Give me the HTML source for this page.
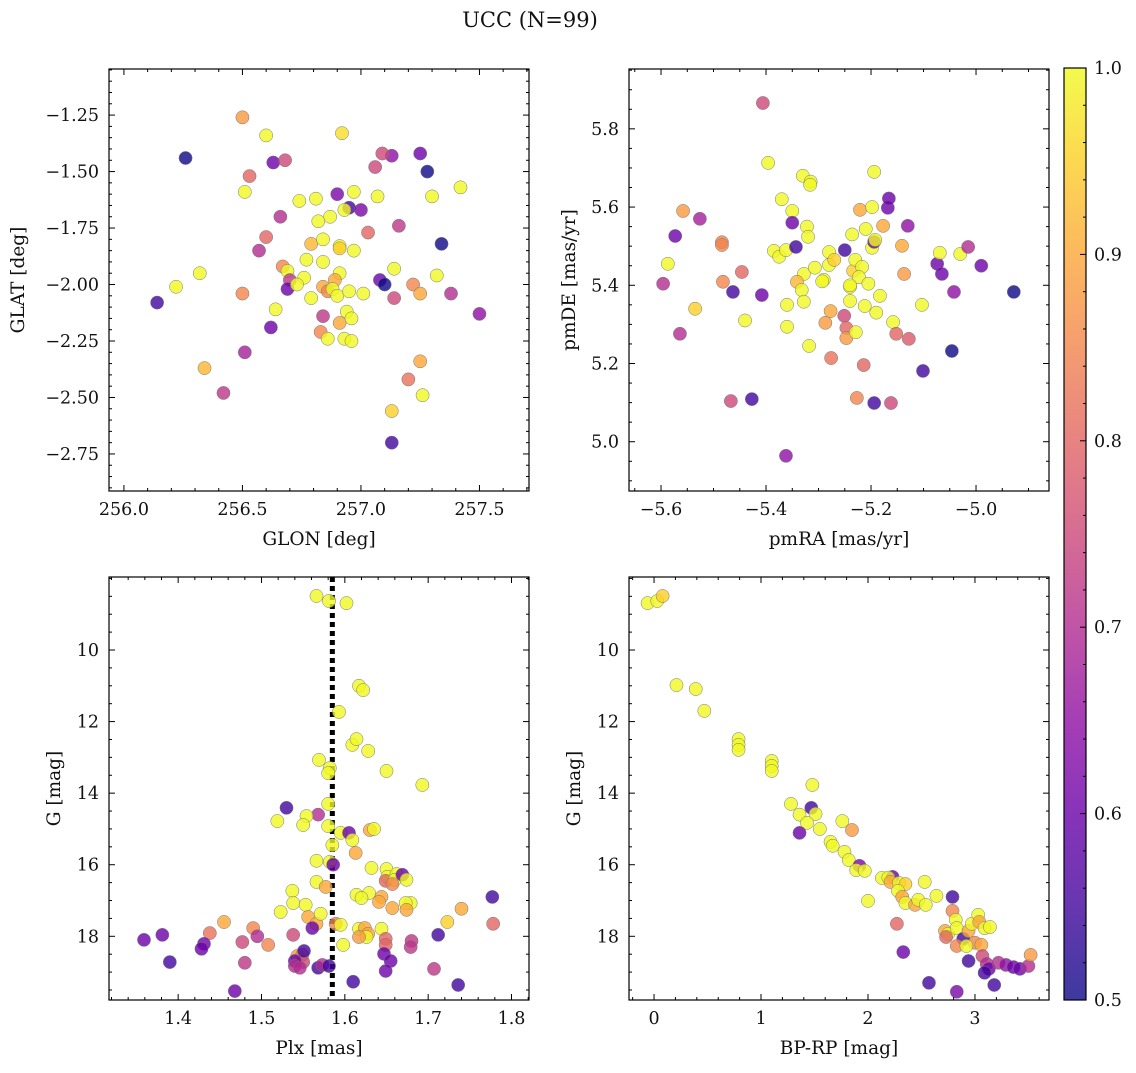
<!DOCTYPE html>
<html><head><meta charset="utf-8"><style>
body{margin:0;background:#fff}
svg text{font-family:"DejaVu Serif","Liberation Serif",serif;fill:#111}
</style></head><body>
<svg id="fig" width="1136" height="1068" xmlns="http://www.w3.org/2000/svg">
<text x="530" y="27" font-size="21" text-anchor="middle">UCC (N=99)</text>
</svg>
<script>
// Panel 1: GLON / GLAT / prob
const p1Lon=[256.26,256.50,256.60,256.92,256.53,256.63,256.68,257.06,257.13,257.09,257.25,257.28,256.51,256.90,256.74,256.81,256.97,256.95,257.00,256.93,257.07,257.30,257.42,256.66,256.87,256.82,257.16,257.03,256.60,256.57,256.79,256.84,256.91,256.97,256.91,257.34,256.77,256.84,256.32,256.67,256.69,257.14,256.91,257.32,256.70,256.76,256.89,256.22,256.14,256.50,256.69,256.73,256.79,256.84,256.86,256.88,256.90,256.95,257.01,257.08,257.10,257.22,257.25,257.14,257.38,257.50,256.64,256.62,256.84,256.91,256.94,256.96,256.83,256.86,256.93,256.96,256.51,256.34,256.42,257.25,257.20,257.26,257.13,257.13];
const p1Lat=[-1.44,-1.26,-1.34,-1.33,-1.52,-1.46,-1.45,-1.48,-1.43,-1.42,-1.42,-1.50,-1.59,-1.60,-1.63,-1.62,-1.59,-1.66,-1.67,-1.67,-1.61,-1.61,-1.57,-1.70,-1.70,-1.72,-1.74,-1.77,-1.79,-1.85,-1.82,-1.80,-1.83,-1.85,-1.84,-1.82,-1.89,-1.90,-1.95,-1.92,-1.94,-1.93,-1.95,-1.96,-1.98,-1.97,-1.98,-2.01,-2.08,-2.04,-2.02,-2.00,-2.06,-2.01,-2.03,-2.02,-2.05,-2.03,-2.04,-1.98,-2.00,-2.00,-2.04,-2.06,-2.04,-2.13,-2.11,-2.19,-2.14,-2.17,-2.12,-2.15,-2.21,-2.24,-2.24,-2.25,-2.30,-2.37,-2.48,-2.34,-2.42,-2.49,-2.56,-2.70];
const p1Prob=[0.5,0.88,1,0.97,0.8,0.6,0.75,0.75,0.65,0.75,0.6,0.5,1,0.62,1,1,1,0.55,0.62,1,1,1,1,0.7,1,1,0.72,0.8,0.8,0.7,0.92,1,1,1,0.95,0.5,1,1,1,0.85,1,1,1,1,0.72,1,0.9,1,0.55,0.85,0.6,1,1,0.9,0.85,1,1,1,1,0.6,0.5,0.85,0.9,0.75,0.7,0.65,1,0.6,0.72,0.9,1,1,0.85,1,1,1,0.68,0.92,0.72,0.9,0.82,1,0.95,0.55];
// Panel 2: pmRA / pmDE / prob
const p2RA=[-5.406,-5.396,-5.33,-5.315,-5.316,-5.37,-5.35,-5.194,-5.558,-5.526,-5.573,-5.587,-5.596,-5.484,-5.484,-5.446,-5.482,-5.535,-5.463,-5.564,-5.44,-5.408,-5.385,-5.375,-5.362,-5.343,-5.322,-5.32,-5.328,-5.341,-5.332,-5.328,-5.36,-5.36,-5.318,-5.35,-5.307,-5.29,-5.28,-5.28,-5.27,-5.293,-5.287,-5.277,-5.276,-5.25,-5.251,-5.247,-5.247,-5.24,-5.24,-5.234,-5.23,-5.236,-5.221,-5.21,-5.217,-5.223,-5.24,-5.229,-5.227,-5.214,-5.212,-5.205,-5.198,-5.194,-5.198,-5.168,-5.192,-5.177,-5.183,-5.19,-5.194,-5.166,-5.158,-5.152,-5.162,-5.141,-5.137,-5.13,-5.128,-5.103,-5.101,-5.074,-5.069,-5.065,-5.042,-5.03,-5.015,-5.046,-4.99,-4.928,-5.467,-5.427,-5.362];
const p2DE=[5.866,5.713,5.68,5.665,5.657,5.62,5.59,5.69,5.59,5.57,5.526,5.455,5.404,5.51,5.503,5.434,5.409,5.34,5.383,5.276,5.31,5.375,5.488,5.473,5.49,5.498,5.55,5.524,5.429,5.409,5.388,5.358,5.35,5.294,5.245,5.56,5.445,5.414,5.485,5.452,5.465,5.41,5.304,5.334,5.214,5.49,5.322,5.291,5.265,5.36,5.396,5.437,5.465,5.53,5.593,5.544,5.447,5.421,5.4,5.28,5.112,5.196,5.347,5.404,5.496,5.511,5.6,5.598,5.516,5.552,5.373,5.33,5.099,5.622,5.306,5.276,5.099,5.501,5.429,5.552,5.263,5.35,5.181,5.455,5.483,5.429,5.383,5.48,5.498,5.232,5.45,5.383,5.104,5.109,4.964];
const p2Prob=[0.75,1,1,1,1,1,1,1,0.88,0.68,0.6,1,0.7,0.85,0.85,0.8,0.85,0.95,0.55,0.7,1,0.6,1,1,1,0.55,1,1,1,0.92,1,1,1,1,1,0.6,1,1,1,1,0.95,1,0.88,0.9,0.82,0.55,0.75,0.8,0.88,1,1,0.95,1,1,0.9,1,1,1,1,1,0.85,0.8,1,1,1,0.6,1,0.6,1,0.9,1,1,0.55,0.6,1,0.8,0.75,0.9,0.88,0.65,0.78,1,0.55,0.6,1,0.6,0.65,1,0.7,0.5,0.6,0.5,0.75,0.55,0.65];
// Panel 3: Plx / G / prob
const p3Plx=[1.566,1.581,1.602,1.617,1.622,1.593,1.609,1.614,1.628,1.569,1.582,1.58,1.65,1.693,1.58,1.53,1.568,1.554,1.55,1.519,1.58,1.595,1.605,1.609,1.63,1.635,1.585,1.613,1.582,1.566,1.586,1.632,1.65,1.651,1.649,1.662,1.66,1.657,1.669,1.674,1.566,1.537,1.577,1.614,1.629,1.62,1.679,1.644,1.641,1.673,1.674,1.657,1.538,1.553,1.556,1.523,1.566,1.571,1.561,1.589,1.595,1.617,1.624,1.628,1.626,1.644,1.598,1.617,1.455,1.438,1.49,1.538,1.495,1.477,1.508,1.431,1.428,1.381,1.359,1.649,1.649,1.68,1.679,1.712,1.723,1.74,1.777,1.778,1.39,1.48,1.468,1.543,1.549,1.55,1.54,1.54,1.546,1.568,1.573,1.581,1.551,1.61,1.647,1.655,1.649,1.707,1.736];
const p3G=[8.49,8.63,8.69,11.0,11.12,11.73,12.65,12.49,12.82,13.07,13.3,13.44,13.38,13.77,14.3,14.41,14.6,14.64,14.89,14.78,14.92,15.11,15.11,15.31,15.03,15.0,15.45,15.67,15.92,15.89,16.0,16.09,16.12,16.34,16.45,16.26,16.42,16.54,16.28,16.42,16.48,16.73,16.62,16.84,16.79,16.93,17.07,16.9,17.04,17.07,17.26,17.21,17.07,17.12,17.46,17.32,17.65,17.37,17.77,17.65,17.68,17.79,17.77,17.93,18.02,17.79,18.24,18.02,17.6,17.91,17.77,17.96,18.0,18.16,18.24,18.21,18.35,17.96,18.1,18.07,18.24,18.13,18.3,17.96,17.6,17.23,16.9,17.65,18.72,18.74,19.53,18.55,18.52,18.72,18.69,18.83,18.88,18.88,18.8,18.83,18.41,19.27,18.49,18.69,18.97,18.91,19.36];
const p3Prob=[1,1,1,1,1,1,1,1,1,1,1,1,1,1,1,0.55,0.7,1,1,1,1,1,0.6,1,0.9,1,1,0.9,1,1,0.6,1,1,1,0.8,1,1,0.85,0.6,1,1,1,0.9,1,1,1,1,0.9,0.9,1,0.9,0.9,1,1,0.9,1,0.9,1,0.6,0.85,1,1,0.9,0.9,1,1,1,0.88,0.9,0.82,0.85,0.75,0.7,0.75,0.85,0.6,0.6,0.6,0.6,0.8,0.8,0.72,0.72,0.55,0.95,0.9,0.55,0.8,0.55,0.72,0.6,0.88,0.85,0.75,0.6,0.7,0.7,0.55,0.7,0.55,0.55,0.55,0.6,0.6,0.6,0.72,0.55];
const plxMedian=1.585;
// Panel 4: BP-RP / G / prob
const p4BR=[-0.06,0.03,0.08,0.21,0.39,0.47,0.79,0.79,0.79,1.10,1.10,1.10,1.48,1.28,1.47,1.36,1.51,1.43,1.36,1.55,1.76,1.85,1.65,1.67,1.78,1.82,1.92,1.89,1.97,2.0,2.13,2.23,2.19,2.21,2.29,2.35,2.28,2.32,2.35,2.44,2.47,2.53,2.64,2.54,2.27,2.33,2.57,2.79,2.79,2.82,2.72,2.75,2.73,2.83,2.89,2.94,2.97,3.03,3.04,3.09,3.14,3.0,3.06,2.83,2.92,2.94,3.07,3.11,3.13,3.09,3.18,3.22,3.29,3.36,3.42,3.5,3.52,2.83];
const p4G=[8.69,8.63,8.49,10.98,11.09,11.7,12.49,12.65,12.79,13.1,13.24,13.38,13.77,14.3,14.41,14.6,14.58,14.83,15.11,15.0,14.78,15.03,15.36,15.47,15.64,15.87,16.03,16.15,16.17,17.01,16.37,16.34,16.36,16.48,16.51,16.54,16.73,16.9,17.07,17.12,16.98,16.48,16.87,17.12,17.65,18.44,19.3,16.9,17.29,17.54,17.85,17.93,18.02,17.77,18.07,17.85,17.65,17.4,17.6,17.77,17.74,18.18,18.24,18.27,18.27,18.69,18.55,18.77,18.91,19.02,19.36,18.74,18.8,18.86,18.91,18.83,18.52,19.55];
const p4Prob=[1,1,0.95,1,1,1,1,1,1,1,1,1,1,1,0.55,1,1,1,0.6,1,1,0.88,1,1,1,1,0.62,1,1,1,1,0.6,1,0.9,1,0.95,1,0.9,1,0.9,1,1,1,1,0.8,0.6,0.55,0.55,0.85,1,0.9,1,0.8,1,0.55,0.9,1,1,0.9,1,1,0.85,0.9,0.85,1,0.55,0.75,0.7,0.6,0.55,0.55,0.7,0.65,0.6,0.6,0.7,0.88,0.62];
const cbTicks=[0.5,0.6,0.7,0.8,0.9,1.0];

const NS="http://www.w3.org/2000/svg";
const svg=document.getElementById('fig');
function mk(tag,attrs,parent){const e=document.createElementNS(NS,tag);for(const k in attrs)e.setAttribute(k,attrs[k]);(parent||svg).appendChild(e);return e;}
const stops=["#0d0887","#41049d","#6a00a8","#8f0da4","#b12a90","#cc4778","#e16462","#f2844b","#fca636","#fcce25","#f0f921"];
function hex(h){return [1,3,5].map(i=>parseInt(h.substr(i,2),16));}
function plasma(t){t=Math.max(0,Math.min(1,t));const f=t*10,i=Math.min(9,Math.floor(f)),r=f-i;const a=hex(stops[i]),b=hex(stops[i+1]);return 'rgb('+a.map((v,k)=>Math.round(v+(b[k]-v)*r)).join(',')+')';}
function pc(p){return plasma((p-0.5)/0.5);}
const TF=17.5, LF=18.5;
function fmt(v,d){let s=v.toFixed(d);return s.replace('-','\u2212');}
function panel(cfg){
  const {name,x0,x1,y0,y1,xmin,xmax,ymin,ymax,invY,xt,xd,xminor,yt,yd,yminor,xlabel,ylabel,xs,ys,ps}=cfg;
  const g=mk('g',{});
  
  
  const sx=v=>x0+(v-xmin)/(xmax-xmin)*(x1-x0);
  const sy=v=>invY? y0+(v-ymin)/(ymax-ymin)*(y1-y0) : y1-(v-ymin)/(ymax-ymin)*(y1-y0);
  const clip=mk('clipPath',{id:'c'+name},g);mk('rect',{x:x0,y:y0,width:x1-x0,height:y1-y0},clip);
  const pts=mk('g',{'clip-path':'url(#c'+name+')'},g);
  if(cfg.vline!==undefined){
    const l=mk('line',{x1:sx(cfg.vline),x2:sx(cfg.vline),y1:y0,y2:y1,stroke:'#000','stroke-width':5,'stroke-dasharray':'5,4'},pts);
    
    
  }
  for(let i=0;i<xs.length;i++){
    const c=mk('circle',{cx:sx(xs[i]),cy:sy(ys[i]),r:6.6,fill:pc(ps[i]),'fill-opacity':0.8,stroke:'#777','stroke-width':0.5},pts);
    
    
  }
  mk('rect',{x:x0,y:y0,width:x1-x0,height:y1-y0,fill:'none',stroke:'#000','stroke-width':1.2},g);
  const eps=1e-9;
  for(let v=Math.ceil(xmin/xminor)*xminor;v<=xmax+eps;v+=xminor){
    const major=xt.some(t=>Math.abs(t-v)<xminor/10);const L=major?6:3;const x=sx(v);
    mk('line',{x1:x,x2:x,y1:y1,y2:y1-L,stroke:'#000','stroke-width':1},g);
    mk('line',{x1:x,x2:x,y1:y0,y2:y0+L,stroke:'#000','stroke-width':1},g);
  }
  for(let v=Math.ceil(ymin/yminor)*yminor;v<=ymax+eps;v+=yminor){
    const major=yt.some(t=>Math.abs(t-v)<yminor/10);const L=major?6:3;const y=sy(v);
    mk('line',{x1:x0,x2:x0+L,y1:y,y2:y,stroke:'#000','stroke-width':1},g);
    mk('line',{x1:x1,x2:x1-L,y1:y,y2:y,stroke:'#000','stroke-width':1},g);
  }
  xt.forEach(t=>{const e=mk('text',{x:sx(t),y:y1+24,'font-size':TF,'text-anchor':'middle'},g);e.textContent=fmt(t,xd);
    });
  yt.forEach(t=>{const e=mk('text',{x:x0-10,y:sy(t)+6,'font-size':TF,'text-anchor':'end'},g);e.textContent=fmt(t,yd);
    });
  const xl=mk('text',{x:(x0+x1)/2,y:y1+54,'font-size':LF,'text-anchor':'middle'},g);xl.textContent=xlabel;
  
  const yx=cfg.ylx, yc=(y0+y1)/2;
  const yl=mk('text',{x:yx,y:yc,'font-size':LF,'text-anchor':'middle',transform:'rotate(-90 '+yx+' '+yc+')'},g);yl.textContent=ylabel;
  
}
panel({name:'glon-glat-panel',x0:109,x1:529,y0:69,y1:491,xmin:255.937,xmax:257.709,ymin:-2.914,ymax:-1.046,xt:[256,256.5,257,257.5],xd:1,xminor:0.1,yt:[-2.75,-2.5,-2.25,-2,-1.75,-1.5,-1.25],yd:2,yminor:0.05,xlabel:'GLON [deg]',ylabel:'GLAT [deg]',ylx:24,xs:p1Lon,ys:p1Lat,ps:p1Prob});
panel({name:'pm-panel',x0:629,x1:1049,y0:69,y1:491,xmin:-5.661,xmax:-4.861,ymin:4.874,ymax:5.953,xt:[-5.6,-5.4,-5.2,-5.0],xd:1,xminor:0.05,yt:[5.0,5.2,5.4,5.6,5.8],yd:1,yminor:0.05,xlabel:'pmRA [mas/yr]',ylabel:'pmDE [mas/yr]',ylx:575,xs:p2RA,ys:p2DE,ps:p2Prob});
panel({name:'plx-g-panel',x0:109,x1:529,y0:577,y1:1000,xmin:1.317,xmax:1.821,ymin:7.96,ymax:19.78,invY:true,xt:[1.4,1.5,1.6,1.7,1.8],xd:1,xminor:0.02,yt:[10,12,14,16,18],yd:0,yminor:0.5,xlabel:'Plx [mas]',ylabel:'G [mag]',ylx:60,xs:p3Plx,ys:p3G,ps:p3Prob,vline:plxMedian});
panel({name:'cmd-panel',x0:629,x1:1049,y0:577,y1:1000,xmin:-0.234,xmax:3.692,ymin:7.96,ymax:19.78,invY:true,xt:[0,1,2,3],xd:0,xminor:0.2,yt:[10,12,14,16,18],yd:0,yminor:0.5,xlabel:'BP-RP [mag]',ylabel:'G [mag]',ylx:580,xs:p4BR,ys:p4G,ps:p4Prob});
const cb=mk('g',{});


const defs=mk('defs',{},cb);const lg=mk('linearGradient',{id:'cbg',x1:0,y1:1,x2:0,y2:0},defs);
for(let i=0;i<=20;i++)mk('stop',{offset:i/20,'stop-color':plasma(i/20)},lg);
const cbx=1064,cbw=22,cby0=68,cby1=1000;
mk('rect',{x:cbx,y:cby0,width:cbw,height:cby1-cby0,fill:'url(#cbg)','fill-opacity':0.8},cb);
mk('rect',{x:cbx,y:cby0,width:cbw,height:cby1-cby0,fill:'none',stroke:'#000','stroke-width':1.2},cb);
const cy=v=>cby1-(v-0.5)/0.5*(cby1-cby0);
for(let v=0.5;v<=1.0001;v+=0.02){const major=cbTicks.some(t=>Math.abs(t-v)<0.002);const y=cy(v);
  mk('line',{x1:cbx+cbw,x2:cbx+cbw-(major?6:3),y1:y,y2:y,stroke:'#000','stroke-width':1},cb);}
cbTicks.forEach(t=>{const e=mk('text',{x:cbx+cbw+8,y:cy(t)+6,'font-size':TF},cb);e.textContent=t.toFixed(1);
  });
</script>
</body></html>
